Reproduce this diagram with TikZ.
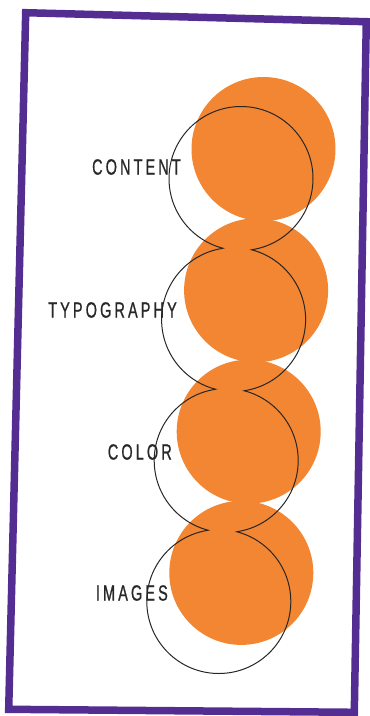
\documentclass[tikz,border=0pt]{standalone}
\usepackage{fontspec}
\newfontfamily\labelfont[FakeStretch=0.66,LetterSpace=14,FakeBold=0.8]{Liberation Sans}
\usetikzlibrary{positioning}
\definecolor{DotOrange}{RGB}{242,134,51}
\definecolor{FramePurple}{RGB}{83,45,145}
\definecolor{LabelGray}{RGB}{40,40,40}
\tikzset{
  frame/.style={draw=FramePurple, line width=7.5pt, line join=miter},
  dot/.style={fill=DotOrange},
  ring/.style={draw=black!85, line width=1pt},
  tag/.style={font=\labelfont\fontsize{22}{22}\selectfont, text=LabelGray,
    anchor=east, inner sep=0pt}
}

\begin{document}
\begin{tikzpicture}[x=1pt, y=-1pt]
  \useasboundingbox (0,0) rectangle (370,716);

  % tilted card
  \draw[frame] (25.7,12.7) -- (366.3,21.7) -- (354.3,712.3) -- (8.7,709.3) -- cycle;

  % orange dots
  \foreach \i/\x/\y in {1/263.5/149, 2/256.1/290.3, 3/248.7/431.6, 4/241.3/572.9}
    \fill[dot] (\x,\y) coordinate (dot\i) circle (72pt);

  % outline chain
  \coordinate (ring0) at (248.4,-200);
  \coordinate (ring1) at (241,178.5);
  \coordinate (ring2) at (233.6,319.5);
  \coordinate (ring3) at (226.2,460.5);
  \coordinate (ring4) at (218.8,601.5);
  \coordinate (ring5) at (211.4,1000);
  \foreach \i in {1,...,4}{
    \pgfmathtruncatemacro\prev{\i-1}
    \pgfmathtruncatemacro\next{\i+1}
    \begin{scope}[even odd rule]
      \clip (-20,-20) rectangle (400,740)
        (ring\prev) circle (72pt) (ring\next) circle (72pt);
      \draw[ring] (ring\i) circle (72pt);
    \end{scope}
  }

  % labels
  \node[tag] (content) at (181,167) {CONTENT};
  \node[tag] (typography) at (177,310) {TYPOGRAPHY};
  \node[tag] (color) at (172,452) {COLOR};
  \node[tag] (images) at (168,593) {IMAGES};
\end{tikzpicture}
\end{document}
